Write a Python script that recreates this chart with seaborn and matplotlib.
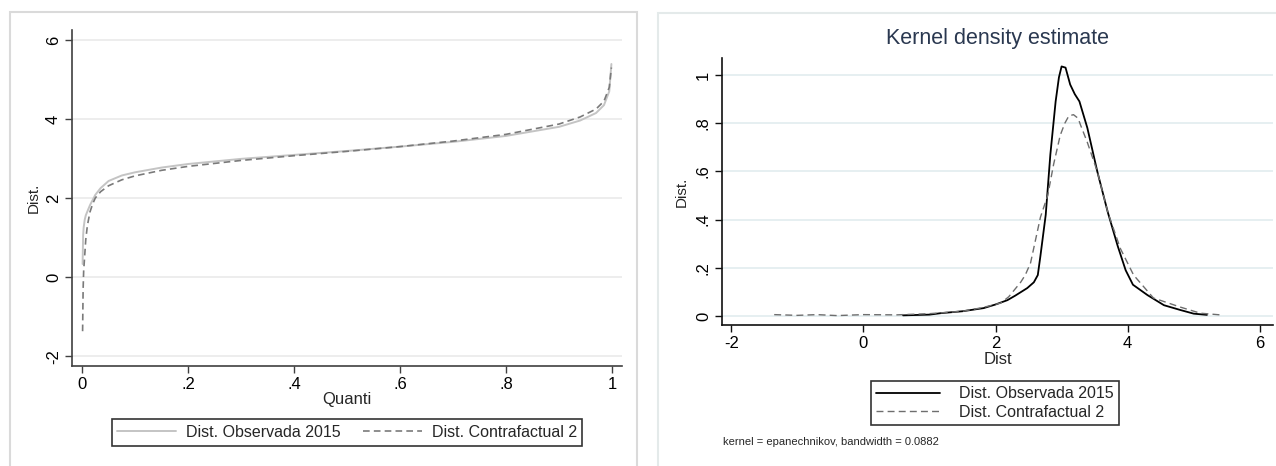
import matplotlib
matplotlib.use('Agg')
import matplotlib.pyplot as plt
import seaborn as sns
import pandas as pd
from matplotlib.patches import Rectangle

# quantile curves (left panel)
quanti = [0.001, 0.002, 0.003, 0.005, 0.007, 0.01, 0.015, 0.02, 0.025, 0.035, 0.05, 0.075,
          0.1, 0.15, 0.2, 0.3, 0.4, 0.5, 0.6, 0.7, 0.8, 0.9, 0.94, 0.97, 0.985, 0.995, 0.999]
q_obs = [0.33, 1.05, 1.25, 1.45, 1.56, 1.66, 1.82, 1.95, 2.08, 2.25, 2.43, 2.57,
         2.65, 2.77, 2.86, 2.99, 3.09, 3.19, 3.30, 3.42, 3.57, 3.80, 3.96, 4.15, 4.35, 4.70, 5.39]
q_cf = [-1.37, -0.30, 0.15, 0.55, 0.95, 1.30, 1.65, 1.85, 2.0, 2.16, 2.31, 2.46,
        2.56, 2.70, 2.80, 2.95, 3.07, 3.18, 3.30, 3.44, 3.61, 3.87, 4.05, 4.25, 4.45, 4.80, 5.30]

# kernel density (right panel)
d_obs_x = [0.6, 1.0, 1.17, 1.5, 1.82, 2.0, 2.18, 2.3, 2.48, 2.58, 2.64, 2.68, 2.76, 2.83, 2.91,
           2.96, 3.0, 3.06, 3.13, 3.2, 3.27, 3.39, 3.54, 3.70, 3.85, 3.97, 4.08, 4.30, 4.55, 4.8, 5.0, 5.2]
d_obs_y = [0.003, 0.006, 0.012, 0.02, 0.033, 0.048, 0.066, 0.085, 0.116, 0.14, 0.17, 0.25, 0.42, 0.67,
           0.89, 0.99, 1.035, 1.03, 0.96, 0.92, 0.89, 0.78, 0.60, 0.43, 0.29, 0.19, 0.13, 0.087, 0.045,
           0.025, 0.01, 0.005]
d_cf_x = [-1.35, -1.0, -0.7, -0.4, 0.0, 0.5, 1.0, 1.5, 1.8, 2.08, 2.2, 2.38, 2.45, 2.53, 2.68, 2.79,
          2.88, 2.98, 3.05, 3.11, 3.18, 3.25, 3.29, 3.39, 3.54, 3.70, 3.89, 4.09, 4.39, 4.8, 5.1, 5.4]
d_cf_y = [0.006, 0.003, 0.006, 0.002, 0.006, 0.005, 0.01, 0.02, 0.035, 0.054, 0.08, 0.14, 0.17, 0.22,
          0.41, 0.50, 0.63, 0.75, 0.80, 0.83, 0.835, 0.82, 0.79, 0.72, 0.60, 0.43, 0.28, 0.17, 0.075,
          0.037, 0.012, 0.005]

lab_obs = 'Dist. Observada 2015'
lab_cf = 'Dist. Contrafactual 2'

sns.set_style('white')
plt.rcParams['font.family'] = ['Liberation Sans', 'DejaVu Sans']

fig = plt.figure(figsize=(12.76, 4.66), dpi=100)

# panel frames
fig.patches.append(Rectangle((10 / 1276, -0.1), 627 / 1276, 1 - 12 / 466 + 0.1,
                             transform=fig.transFigure, fill=False, edgecolor='#dadada', lw=1.5))
fig.patches.append(Rectangle((658 / 1276, -0.1), 0.5, 1 - 13 / 466 + 0.1,
                             transform=fig.transFigure, fill=False, edgecolor='#e4eaea', lw=1.5))

# ---------- left panel ----------
ax1 = fig.add_axes([72 / 1276, 1 - 366 / 466, 550 / 1276, 336 / 466])
df_q = pd.DataFrame({'Quanti': quanti, 'obs': q_obs, 'cf': q_cf})
sns.lineplot(data=df_q, x='Quanti', y='obs', ax=ax1, color='#c4c4c4', lw=1.4,
             label=lab_obs, sort=False)
sns.lineplot(data=df_q, x='Quanti', y='cf', ax=ax1, color='#7a7a7a', lw=1.2,
             label=lab_cf, sort=False, linestyle=(0, (4, 2.5)))
ax1.set_xlim(-0.019, 1.019)
ax1.set_ylim(-2.25, 6.25)
ax1.set_xticks([0, 0.2, 0.4, 0.6, 0.8, 1], ['0', '.2', '.4', '.6', '.8', '1'])
ax1.set_yticks([-2, 0, 2, 4, 6], ['-2', '0', '2', '4', '6'])
ax1.set_xlabel('Quanti', fontsize=12, labelpad=0)
ax1.set_ylabel('Dist.', fontsize=11, labelpad=4)

# ---------- right panel ----------
ax2 = fig.add_axes([722 / 1276, 1 - 325 / 466, 551 / 1276, 267 / 466])
df_o = pd.DataFrame({'x': d_obs_x, 'y': d_obs_y})
df_c = pd.DataFrame({'x': d_cf_x, 'y': d_cf_y})
sns.lineplot(data=df_o, x='x', y='y', ax=ax2, color='black', lw=1.3, label=lab_obs)
sns.lineplot(data=df_c, x='x', y='y', ax=ax2, color='#6e6e6e', lw=1.0,
             label=lab_cf, linestyle=(0, (5, 3)))
ax2.set_xlim(-2.14, 6.2)
ax2.set_ylim(-0.037, 1.07)
ax2.set_xticks([-2, 0, 2, 4, 6], ['-2', '0', '2', '4', '6'])
ax2.set_yticks([0, 0.2, 0.4, 0.6, 0.8, 1], ['0', '.2', '.4', '.6', '.8', '1'])
ax2.set_xlabel('Dist', fontsize=12, labelpad=1)
ax2.set_ylabel('Dist.', fontsize=11, labelpad=5)
ax2.set_title('Kernel density estimate', fontsize=15.5, color='#2a3850', pad=10)

for ax, gc, sc in [(ax1, '#ececec', '#404040'), (ax2, '#e4eef0', '#111111')]:
    ax.grid(axis='y', color=gc, lw=1.3)
    ax.grid(axis='x', visible=False)
    ax.set_axisbelow(True)
    for s in ['top', 'right']:
        ax.spines[s].set_visible(False)
    for s in ['left', 'bottom']:
        ax.spines[s].set_color(sc)
        ax.spines[s].set_linewidth(1.2)
    ax.tick_params(axis='both', direction='out', length=5, width=1, color=sc,
                   labelsize=12, labelcolor='black', pad=3, bottom=True, left=True)
    for t in ax.get_yticklabels():
        t.set_rotation(90)
        t.set_va('center')

leg1 = ax1.legend(loc='center', bbox_to_anchor=(347 / 1276, 0.0719),
                  bbox_transform=fig.transFigure, ncol=2, fontsize=11.5,
                  frameon=True, fancybox=False, edgecolor='black', handlelength=3.7,
                  columnspacing=1.4, borderpad=0.35, handletextpad=0.6)
leg1.get_frame().set_linewidth(1.2)
leg2 = ax2.legend(loc='center', bbox_to_anchor=(995 / 1276, 0.135),
                  bbox_transform=fig.transFigure, ncol=1, fontsize=11.5,
                  frameon=True, fancybox=False, edgecolor='black', handlelength=4,
                  borderpad=0.3, labelspacing=0.25, handletextpad=1.2)
leg2.get_frame().set_linewidth(1.2)

fig.text(723 / 1276, 1 - 442 / 466, 'kernel = epanechnikov, bandwidth = 0.0882',
         fontsize=8, va='center', ha='left')

fig.savefig('out.png', dpi=100)
